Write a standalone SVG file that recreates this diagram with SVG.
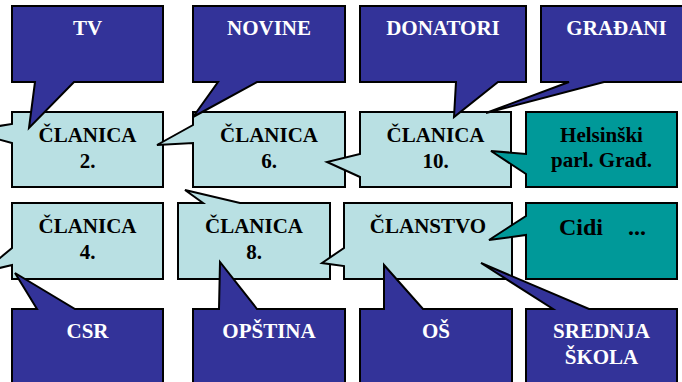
<svg xmlns="http://www.w3.org/2000/svg" width="682" height="382" viewBox="0 0 682 382">
<style>
.dark{fill:#333399;stroke:#000;stroke-width:2;stroke-linejoin:miter}
.light{fill:#B9E0E3;stroke:#000;stroke-width:2;stroke-linejoin:miter}
.teal{fill:#009999;stroke:#000;stroke-width:2;stroke-linejoin:miter}
text{font-family:"Liberation Serif","Times New Roman",serif;font-weight:bold;font-size:21px;text-anchor:middle}
.w{fill:#fff}
.b{fill:#000}
.big{font-size:24px}
</style>
<rect width="682" height="382" fill="#fff"/>
<g id="clanica2">
<path class="light" d="M12,112 H163 V187 H12 V143 L-33,131 L12,124 Z"/>
<text class="b" x="87.5" y="142">ČLANICA</text>
<text class="b" x="87.5" y="168">2.</text>
</g>
<g id="clanica6">
<path class="light" d="M193,112 H345 V187 H193 V143 L157,145 L193,125 Z"/>
<text class="b" x="269" y="142">ČLANICA</text>
<text class="b" x="269" y="168">6.</text>
</g>
<g id="clanica10">
<path class="light" d="M360,112 H511 V187 H360 V177 L327,162 L360,154 Z"/>
<text class="b" x="435.5" y="142">ČLANICA</text>
<text class="b" x="435.5" y="168">10.</text>
</g>
<g id="helsinski">
<path class="teal" d="M526,112 H677 V187 H526 V174 L491,151 L526,154 Z"/>
<text class="b" x="601.5" y="142">Helsinški</text>
<text class="b" x="601.5" y="167">parl. Građ.</text>
</g>
<g id="clanica4">
<path class="light" d="M12,203 H163 V279 H12 V265 L-17,272 L12,248 Z"/>
<text class="b" x="87.5" y="233">ČLANICA</text>
<text class="b" x="87.5" y="259">4.</text>
</g>
<g id="clanica8">
<path class="light" d="M178,203 H203 L185,190 L240,203 H330 V279 H178 Z"/>
<text class="b" x="254" y="233">ČLANICA</text>
<text class="b" x="254" y="259">8.</text>
</g>
<g id="clanstvo">
<path class="light" d="M344,203 H512 V279 H344 V266 L322,263 L344,248 Z"/>
<text class="b" x="428" y="233">ČLANSTVO</text>
</g>
<g id="cidi">
<path class="teal" d="M526,203 H677 V279 H526 V235 L489,240 L526,216 Z"/>
<text class="b big" x="581" y="235">Cidi</text>
<text class="b big" x="637" y="235">...</text>
</g>
<g id="tv">
<path class="dark" d="M12,6 H163 V82 H74 L29,128 L35,82 H12 Z"/>
<text class="w" x="87.5" y="35">TV</text>
</g>
<g id="novine">
<path class="dark" d="M193,6 H345 V82 H257 L193,117 L218,82 H193 Z"/>
<text class="w" x="269" y="35">NOVINE</text>
</g>
<g id="donatori">
<path class="dark" d="M360,6 H526 V82 H498 L454,117 L456,82 H360 Z"/>
<text class="w" x="443" y="35">DONATORI</text>
</g>
<g id="gradjani">
<path class="dark" d="M541,6 H692 V82 H604 L486,113 L569,82 H541 Z"/>
<text class="w" x="616.5" y="35">GRAĐANI</text>
</g>
<g id="csr">
<path class="dark" d="M12,309 H37 L15,273 L75,309 H163 V400 H12 Z"/>
<text class="w" x="87.5" y="338">CSR</text>
</g>
<g id="opstina">
<path class="dark" d="M193,309 H219 L220,262 L257,309 H345 V400 H193 Z"/>
<text class="w" x="269" y="338">OPŠTINA</text>
</g>
<g id="os">
<path class="dark" d="M360,309 H384 L384,265 L423,309 H512 V400 H360 Z"/>
<text class="w" x="436" y="338">OŠ</text>
</g>
<g id="srednja">
<path class="dark" d="M526,309 H553 L481,263 L589,309 H677 V400 H526 Z"/>
<text class="w" x="601.5" y="338">SREDNJA</text>
<text class="w" x="601.5" y="364">ŠKOLA</text>
</g>
<g id="connectors"/>
</svg>
